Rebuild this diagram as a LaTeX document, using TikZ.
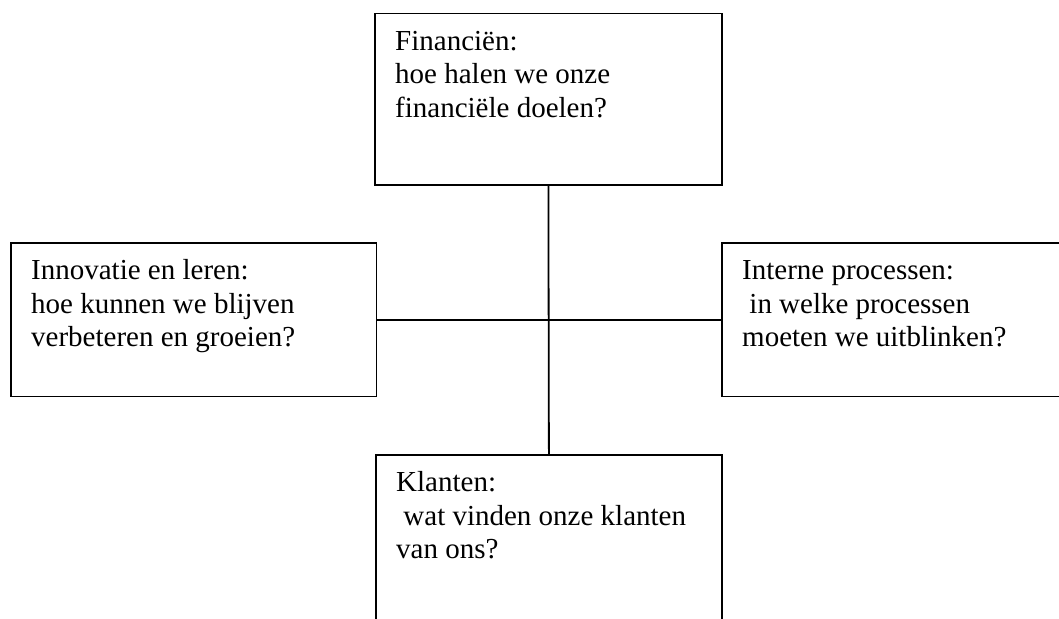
\documentclass[tikz,border=0pt]{standalone}
\usepackage{fontspec}
\setmainfont{Liberation Serif}
\begin{document}
\begin{tikzpicture}[x=1pt,y=-1pt,
  box/.style={draw=black, line width=1.8pt, rectangle, inner sep=0pt, anchor=north west, fill=white},
  lbl/.style={anchor=base west, inner sep=0pt, xshift=21pt, yshift=-37.5pt, font=\fontsize{29}{33.5}\selectfont},
  link/.style={draw=black, line width=1.8pt}]
\clip (0,0) rectangle (1059,618);
\fill[white] (0,0) rectangle (1059,618);
% boxes
\node[box, minimum width=347pt, minimum height=171.3pt] (fin) at (374,12.7) {};
\node[box, minimum width=365.5pt, minimum height=153.5pt] (inn) at (10,242) {};
\node[box, minimum width=360pt, minimum height=153.5pt] (int) at (721,242) {};
\node[box, minimum width=346pt, minimum height=200pt] (kla) at (375,454) {};
% connectors
\draw[link] (fin.south) -- (kla.north);
\draw[link] (inn.east) -- (int.west);
% texts
\node[lbl] (finT) at (fin.north west) {\begin{tabular}[t]{@{}l@{}}Financiën:\\hoe halen we onze\\financiële doelen?\end{tabular}};
\node[lbl] (innT) at (inn.north west) {\begin{tabular}[t]{@{}l@{}}Innovatie en leren:\\hoe kunnen we blijven\\verbeteren en groeien?\end{tabular}};
\node[lbl] (intT) at (int.north west) {\begin{tabular}[t]{@{}l@{}}Interne processen:\\\ in welke processen\\moeten we uitblinken?\end{tabular}};
\node[lbl] (klaT) at (kla.north west) {\begin{tabular}[t]{@{}l@{}}Klanten:\\\ wat vinden onze klanten\\van ons?\end{tabular}};
\end{tikzpicture}
\end{document}
